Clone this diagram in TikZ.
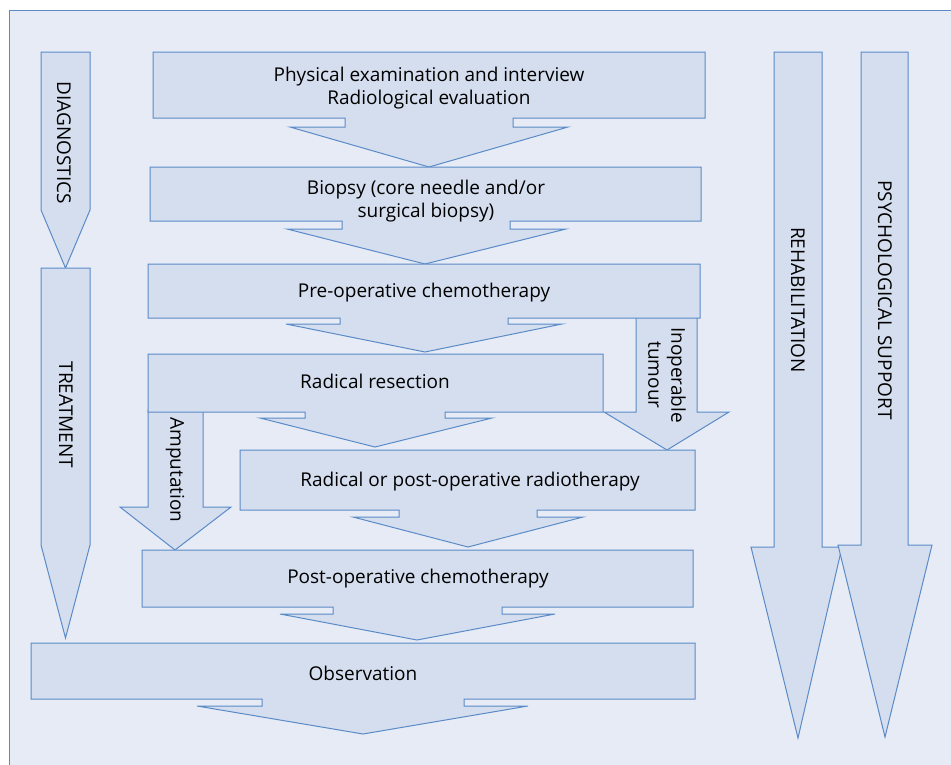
\documentclass[tikz,border=0pt]{standalone}
\usepackage{fontspec}
\setmainfont{Open Sans}
\definecolor{bgc}{HTML}{E6EBF6}
\definecolor{fillc}{HTML}{D5DEEE}
\definecolor{linec}{HTML}{5B8BC7}
\tikzset{
  shp/.style={fill=fillc, draw=linec, line width=1pt, line join=miter},
  lbl/.style={font=\fontsize{19}{23}\selectfont, text=black, align=center, inner sep=0pt},
}
\begin{document}
\begin{tikzpicture}[x=1pt,y=-1pt]
\useasboundingbox (0,0) rectangle (951,764);
\fill[white] (0,0) rectangle (951,764);
\filldraw[fill=bgc, draw=linec, line width=1pt] (9,10) rectangle (975,790);
% left column
\filldraw[shp] (41,52) -- (90,52) -- (90,210) -- (65.5,268) -- (41,210) -- cycle;
\filldraw[shp] (41,268) -- (90,268) -- (90,545) -- (65.5,638) -- (41,545) -- cycle;
% side branches (drawn below the boxes)
\filldraw[shp] (636,316) -- (697,316) -- (697,412) -- (729,412) -- (667,450) -- (604,412) -- (636,412) -- cycle;
\filldraw[shp] (148,410) -- (203,410) -- (203,507) -- (231,507) -- (175,550) -- (120,507) -- (148,507) -- cycle;
% main boxes
\filldraw[shp] (153,52) -- (705,52) -- (705,118) -- (513,118) -- (513,127) -- (568,127) -- (429,167) -- (290,127) -- (345,127) -- (345,118) -- (153,118) -- cycle;
\filldraw[shp] (150,167) -- (701,167) -- (701,221) -- (510,221) -- (510,229) -- (566,229) -- (425,264) -- (287,229) -- (342,229) -- (342,221) -- (150,221) -- cycle;
\filldraw[shp] (148,264) -- (700,264) -- (700,318) -- (508,318) -- (508,324) -- (562,324) -- (425,352) -- (286,324) -- (340,324) -- (340,318) -- (148,318) -- cycle;
\filldraw[shp] (148,354) -- (603,354) -- (603,412) -- (445,412) -- (445,418) -- (492,418) -- (375,447) -- (260,418) -- (305,418) -- (305,412) -- (148,412) -- cycle;
\filldraw[shp] (240,450) -- (695,450) -- (695,510) -- (537,510) -- (537,517) -- (583,517) -- (468,547) -- (353,517) -- (399,517) -- (399,510) -- (240,510) -- cycle;
\filldraw[shp] (142,550) -- (693,550) -- (693,607) -- (502,607) -- (502,614) -- (555,614) -- (417,640) -- (280,614) -- (333,614) -- (333,607) -- (142,607) -- cycle;
\filldraw[shp] (31,643) -- (695,643) -- (695,699) -- (464,699) -- (464,706) -- (528,706) -- (363,734) -- (197,706) -- (262,706) -- (262,699) -- (31,699) -- cycle;
% right arrows
\filldraw[shp] (774,52) -- (822,52) -- (822,547) -- (842,547) -- (798,738) -- (751,547) -- (774,547) -- cycle;
\filldraw[shp] (861,52) -- (908,52) -- (908,545) -- (932,545) -- (885,737) -- (838,545) -- (861,545) -- cycle;
% labels
\node[lbl] (t1) at (429,88) {Physical examination and interview\\Radiological evaluation};
\node[lbl] (t2) at (426,201) {Biopsy (core needle and/or\\surgical biopsy)};
\node[lbl] (t3) at (424,293) {Pre-operative chemotherapy};
\node[lbl] (t4) at (375,381) {Radical resection};
\node[lbl] (t5) at (470,482) {Radical or post-operative radiotherapy};
\node[lbl] (t6) at (418,579) {Post-operative chemotherapy};
\node[lbl] (t7) at (363,673) {Observation};
\node[lbl, rotate=-90] (diag) at (64,143) {DIAGNOSTICS};
\node[lbl, rotate=-90] (treat) at (66,415) {TREATMENT};
\node[lbl, rotate=-90] (rehab) at (798,300) {REHABILITATION};
\node[lbl, rotate=-90] (psych) at (885,300) {PSYCHOLOGICAL SUPPORT};
\node[lbl, rotate=-90] (inop) at (667,375) {Inoperable\\tumour};
\node[lbl, rotate=-90] (amp) at (175,470) {Amputation};
\end{tikzpicture}
\end{document}
